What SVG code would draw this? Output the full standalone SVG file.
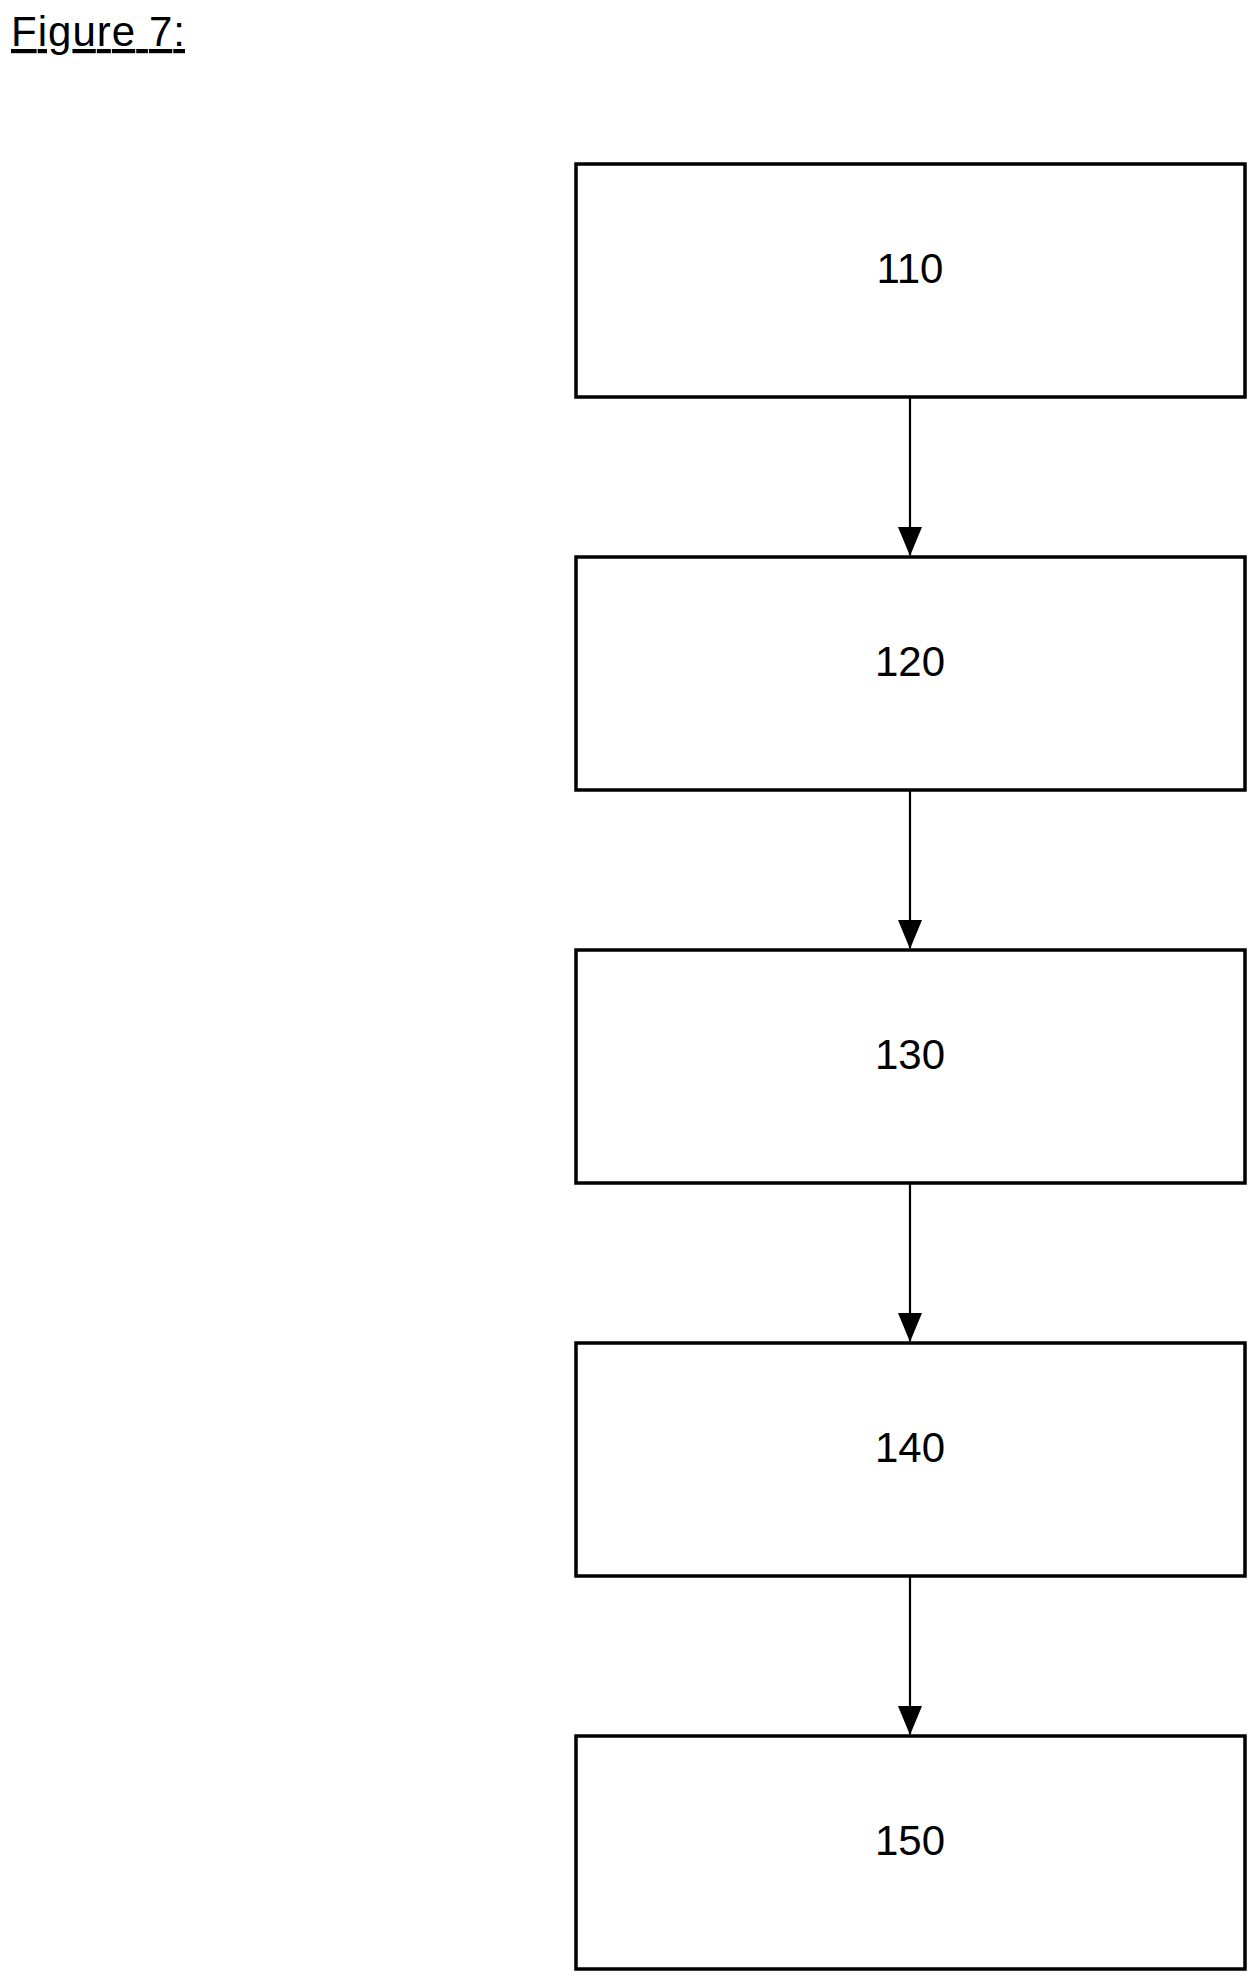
<svg xmlns="http://www.w3.org/2000/svg" width="1260" height="1982" viewBox="0 0 1260 1982">
<style>
.box{fill:#fff;stroke:#000;stroke-width:3.5}
.lbl{font-family:"Liberation Sans",Arial,sans-serif;font-size:42px;text-anchor:middle;fill:#000}
.con{stroke:#000;stroke-width:2.2;fill:none}
</style>
<defs><marker id="ah" markerUnits="userSpaceOnUse" markerWidth="24" markerHeight="30" refX="12" refY="28" orient="auto-start-reverse" viewBox="0 0 24 30"><path d="M0,0 L24,0 L12,28 Z" fill="#000" transform="rotate(0)"/></marker></defs>
<rect width="1260" height="1982" fill="#fff"/>
<text x="11" y="46" font-family="Liberation Sans,Arial,sans-serif" font-size="42" textLength="174" text-decoration="underline">Figure 7:</text>
<g id="connectors">
<line class="con" x1="910" y1="396" x2="910" y2="555"/>
<line class="con" x1="910" y1="789" x2="910" y2="948"/>
<line class="con" x1="910" y1="1182" x2="910" y2="1341"/>
<line class="con" x1="910" y1="1575" x2="910" y2="1734"/>
<path d="M898,527 L922,527 L910,556 Z"/>
<path d="M898,920 L922,920 L910,949 Z"/>
<path d="M898,1313 L922,1313 L910,1342 Z"/>
<path d="M898,1706 L922,1706 L910,1735 Z"/>
</g>
<g id="n110"><rect class="box" x="576" y="164" width="669" height="233"/><text class="lbl" x="910" y="283">110</text></g>
<g id="n120"><rect class="box" x="576" y="557" width="669" height="233"/><text class="lbl" x="910" y="676">120</text></g>
<g id="n130"><rect class="box" x="576" y="950" width="669" height="233"/><text class="lbl" x="910" y="1069">130</text></g>
<g id="n140"><rect class="box" x="576" y="1343" width="669" height="233"/><text class="lbl" x="910" y="1462">140</text></g>
<g id="n150"><rect class="box" x="576" y="1736" width="669" height="233"/><text class="lbl" x="910" y="1855">150</text></g>
</svg>
